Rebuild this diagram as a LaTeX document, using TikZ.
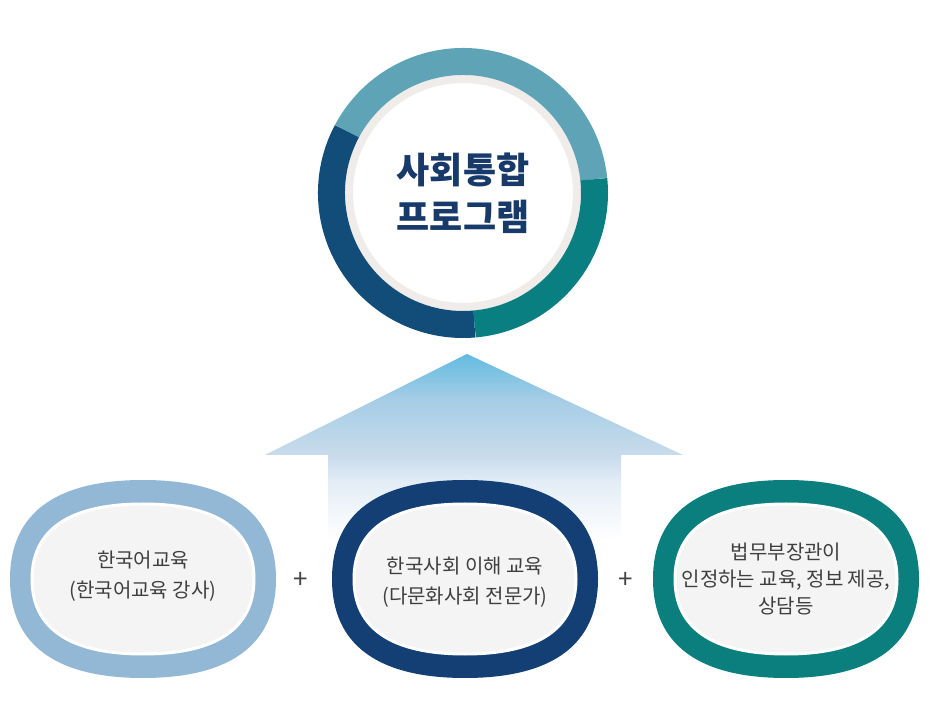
\documentclass[tikz,border=0pt]{standalone}
\usepackage{fontspec}
\newfontfamily\kr{Noto Sans CJK KR}

\definecolor{ringlight}{HTML}{5FA3B7}
\definecolor{ringteal}{HTML}{0A7F82}
\definecolor{ringnavy}{HTML}{114D78}
\definecolor{rimgray}{HTML}{EFECE9}
\definecolor{titlenavy}{HTML}{173A6A}
\definecolor{pillblue}{HTML}{93B8D6}
\definecolor{pillnavy}{HTML}{133F75}
\definecolor{pillteal}{HTML}{0A7F7E}
\definecolor{pillfill}{HTML}{F4F4F4}
\definecolor{textgray}{HTML}{3F3F3F}
\definecolor{plusgray}{HTML}{444444}
\definecolor{arrowtop}{HTML}{62BBE0}
\definecolor{arrowlite}{HTML}{A5CDE6}
\definecolor{arrowmid}{HTML}{C9DCEB}
\definecolor{arrowpale}{HTML}{E3EDF6}

\pgfdeclareverticalshading{upshade}{100bp}{color(0bp)=(white); color(30bp)=(white);
  color(44bp)=(arrowpale); color(50bp)=(arrowmid); color(64bp)=(arrowlite);
  color(75bp)=(arrowtop); color(100bp)=(arrowtop)}

% rounded oval: centre x, centre y, half width, half height
\newcommand\pillpath[4]{(#1,#2+#4)
  .. controls (#1+.66*#3,#2+#4) and (#1+#3,#2+.66*#4) .. (#1+#3,#2)
  .. controls (#1+#3,#2-.66*#4) and (#1+.66*#3,#2-#4) .. (#1,#2-#4)
  .. controls (#1-.66*#3,#2-#4) and (#1-#3,#2-.66*#4) .. (#1-#3,#2)
  .. controls (#1-#3,#2+.66*#4) and (#1-.66*#3,#2+#4) .. cycle}

\tikzset{
  pilltext/.style={align=center, text=textgray, inner sep=0pt,
    font=\kr\fontsize{20}{29.5}\selectfont},
  plussign/.style={text=plusgray, font=\kr\fontsize{26}{26}\selectfont}
}

\begin{document}
\begin{tikzpicture}[x=1pt,y=1pt]
  \useasboundingbox (0,0) rectangle (931,720);

  % program circle
  \node[circle, fill=white, draw=rimgray, line width=8pt, minimum size=228pt,
    align=center, text=titlenavy, font=\kr\bfseries\fontsize{36}{47}\selectfont]
    (prog) at (463,527) {사회통합\\프로그램};
  \foreach \col/\a/\b in {ringlight/6/152, ringnavy/152/275, ringteal/275/366}
    \draw[line width=27pt, \col] (prog.center) ++(\a:131.5) arc[start angle=\a, end angle=\b, radius=131.5];

  % up arrow
  \coordinate (tip) at (467,366);
  \coordinate (wingL) at (265,265);
  \coordinate (wingR) at (683,265);
  \coordinate (shaftL) at (328,265);
  \coordinate (shaftR) at (621,265);
  \coordinate (baseL) at (328,160);
  \coordinate (baseR) at (621,160);
  \shade[shading=upshade] (tip) -- (wingR) -- (shaftR) -- (baseR) -- (baseL) -- (shaftL) -- (wingL) -- cycle;

  % three courses
  \foreach \cx/\col in {143/pillblue, 465/pillnavy, 786/pillteal} {
    \fill[\col] \pillpath{\cx}{141}{133}{99};
    \filldraw[fill=pillfill, draw=white, line width=3pt] \pillpath{\cx}{141}{111}{75};
  }
  \node[pilltext] (korean) at (143,144) {한국어교육\\(한국어교육 강사)};
  \node[pilltext] (society) at (465,138) {한국사회 이해 교육\\(다문화사회 전문가)};
  \node[pilltext, font=\kr\fontsize{20}{27}\selectfont] (minister) at (786,141)
    {법무부장관이\\인정하는 교육, 정보 제공,\\상담등};

  \node[plussign] (plus1) at (301,140) {+};
  \node[plussign] (plus2) at (626,140) {+};
\end{tikzpicture}
\end{document}
